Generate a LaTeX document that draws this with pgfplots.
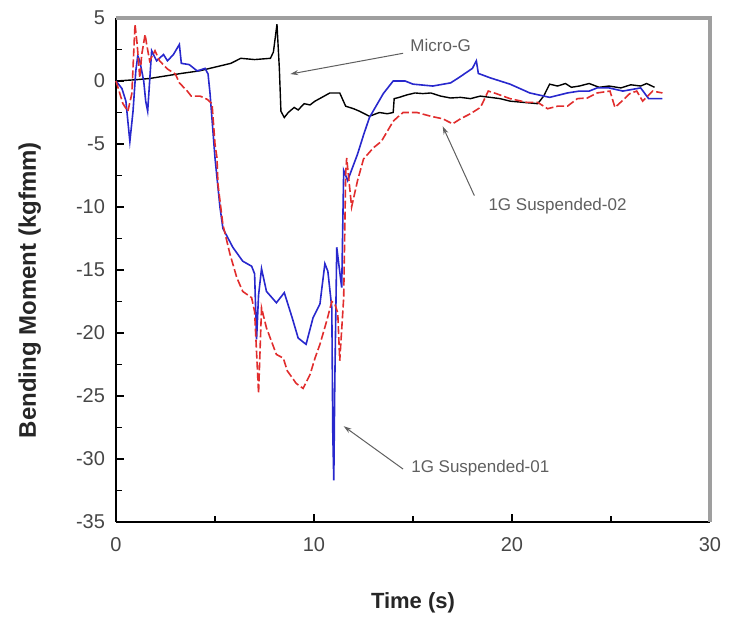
\documentclass[border=0pt]{standalone}
\usepackage{fontspec}
\setmainfont{Liberation Sans}
\usepackage{pgfplots}
\pgfplotsset{compat=1.18}
\usetikzlibrary{arrows.meta}
\definecolor{cblue}{RGB}{40,40,205}
\definecolor{cred}{RGB}{225,45,45}
\definecolor{tickgray}{RGB}{70,70,70}
\definecolor{notegray}{RGB}{95,95,95}
\begin{document}
\begin{tikzpicture}
\useasboundingbox (-58pt,-56.5pt) rectangle (307pt,261pt);
\begin{axis}[
  scale only axis,
  width=297pt, height=252pt,
  xmin=0, xmax=30, ymin=-35, ymax=5,
  axis x line*=bottom, axis y line*=left,
  axis line style={line width=1pt, black},
  xtick={0,10,20,30}, xticklabels={0,10,20,30},
  ytick={-35,-30,...,5}, yticklabels={-35,-30,-25,-20,-15,-10,-5,0,5},
  minor xtick={5,15,25},
  minor ytick={-32.5,-27.5,...,2.5},
  tick align=inside,
  major tick length=4pt, minor tick length=3pt,
  every tick/.style={black, line width=0.8pt},
  tick label style={font=\fontsize{10}{12}\selectfont, text=tickgray},
  xticklabel style={yshift=-4pt},
  yticklabel style={xshift=-2pt},
  xlabel={\textbf{Time (s)}},
  ylabel={\textbf{Bending Moment (kgfmm)}},
  xlabel style={font=\fontsize{11}{12}\selectfont, text=black!85,
    at={(axis description cs:0.5,0)}, yshift=-32pt},
  ylabel style={font=\fontsize{12}{13}\selectfont, text=black!85,
    at={(axis description cs:0,0.46)}, yshift=34pt},
  clip=false,
]
% Micro-G
\addplot[black, line width=0.7pt] coordinates {
  (0,0) (0.5,0.05) (1.0,0.1) (1.7,0.2) (2.5,0.4) (3.3,0.6) (4.2,0.8) (5.0,1.1)
  (5.8,1.4) (6.3,1.8) (7.0,1.7) (7.8,1.8) (7.95,2.3) (8.13,4.5) (8.25,1.0)
  (8.33,-2.4) (8.5,-2.9) (8.7,-2.5) (9.0,-2.1) (9.2,-2.3) (9.5,-1.8) (9.8,-1.9)
  (10.05,-1.6) (10.4,-1.3) (10.8,-0.95) (11.3,-0.95) (11.6,-2.0) (12.0,-2.2)
  (12.3,-2.4) (12.8,-2.8) (13.3,-2.5) (13.7,-2.6) (14.0,-2.5) (14.05,-1.4)
  (14.3,-1.3) (14.7,-1.1) (15.1,-0.95) (15.5,-1.0) (15.9,-0.95) (16.4,-1.2)
  (16.9,-1.35) (17.4,-1.3) (17.9,-1.4) (18.4,-1.2) (18.9,-1.3) (19.4,-1.4)
  (19.9,-1.6) (20.6,-1.7) (21.3,-1.8) (21.6,-1.2) (21.9,-0.25) (22.3,-0.4)
  (22.7,-0.2) (23.0,-0.5) (23.4,-0.4) (23.9,-0.2) (24.4,-0.5) (24.9,-0.4)
  (25.5,-0.55) (26.0,-0.3) (26.5,-0.4) (26.8,-0.2) (27.2,-0.5)
};
% 1G Suspended-01
\addplot[cblue, line width=0.8pt] coordinates {
  (0,0) (0.3,-0.6) (0.5,-1.6) (0.7,-4.8) (0.86,-2.4) (1.0,0.8) (1.1,2.0)
  (1.2,1.6) (1.4,0) (1.5,-1.6) (1.6,-2.4) (1.8,2.4) (2.05,1.6) (2.4,2.1)
  (2.6,1.6) (2.9,2.1) (3.2,2.9) (3.3,1.4) (3.7,1.3) (4.1,0.8) (4.5,1.0)
  (4.65,0.55) (4.75,-1.0) (5.0,-6.1) (5.25,-10) (5.4,-11.7) (5.9,-13.2)
  (6.4,-14.3) (6.85,-14.7) (7.0,-15.3) (7.1,-20.5) (7.2,-17) (7.35,-14.9)
  (7.6,-16.7) (8.1,-17.6) (8.5,-16.8) (8.9,-18.8) (9.2,-20.4) (9.6,-20.9)
  (9.95,-18.8) (10.3,-17.7) (10.55,-14.5) (10.7,-15.1) (10.9,-18)
  (10.95,-28) (11.0,-31.7) (11.05,-24) (11.15,-13.2) (11.25,-14.5)
  (11.4,-16.4) (11.5,-7.1) (11.7,-7.9) (12.2,-5.8) (12.5,-4.3) (12.8,-2.9)
  (13.5,-1.0) (14.0,0) (14.6,0) (15.0,-0.25) (16.0,-0.4) (16.9,-0.15)
  (17.3,0.25) (18.0,1.0) (18.2,1.6) (18.3,0.6) (18.9,0.25) (19.9,-0.25)
  (20.9,-0.95) (21.9,-1.3) (22.8,-0.95) (23.4,-0.8) (23.9,-0.8) (24.3,-0.55)
  (24.9,-0.55) (25.6,-0.8) (26.5,-0.55) (26.9,-1.4) (27.6,-1.4)
};
% 1G Suspended-02
\addplot[cred, line width=0.8pt, dash pattern=on 4pt off 1.5pt] coordinates {
  (0,0) (0.35,-1.8) (0.6,-2.4) (0.8,-1.0) (0.96,4.5) (1.07,2.9) (1.2,0.25)
  (1.3,2.1) (1.47,3.7) (1.55,2.9) (1.7,1.6) (1.97,2.4) (2.2,1.6) (2.6,0.95)
  (3.0,0.55) (3.2,-0.15) (3.6,-0.8) (3.8,-1.2) (4.25,-1.2) (4.6,-1.45)
  (4.85,-1.8) (5.0,-5) (5.1,-6.1) (5.15,-8.2) (5.4,-11.4) (5.75,-13.7)
  (6.1,-15.6) (6.4,-16.7) (6.85,-17.2) (7.0,-18.3) (7.2,-24.8) (7.35,-18)
  (7.6,-19.6) (8.1,-21.7) (8.45,-22) (8.65,-23) (9.1,-24) (9.45,-24.4)
  (9.8,-23.3) (10.05,-22) (10.3,-20.9) (10.65,-19) (10.9,-17.5) (11.05,-17.7)
  (11.2,-18.4) (11.3,-22.2) (11.5,-17.2) (11.6,-7.4) (11.65,-6.1) (11.9,-10)
  (12.2,-7.9) (12.5,-6.2) (13.0,-5.3) (13.4,-4.8) (13.7,-4.0) (14.0,-3.2)
  (14.2,-2.9) (14.5,-2.5) (15.2,-2.5) (15.9,-2.8) (16.5,-3.0) (17.0,-3.4)
  (17.4,-3.0) (17.9,-2.6) (18.4,-2.1) (18.5,-1.8) (18.8,-0.8) (19.2,-1.0)
  (19.9,-1.4) (20.75,-1.7) (21.3,-1.7) (21.8,-2.2) (22.3,-2.0) (22.8,-2.0)
  (23.3,-1.4) (23.8,-1.35) (24.3,-0.95) (24.95,-0.8) (25.2,-2.1) (25.55,-1.6)
  (25.95,-1.0) (26.3,-0.8) (26.6,-1.6) (27.1,-0.8) (27.6,-0.95)
};
% frame top and right
\draw[gray!75, line width=1.6pt] (rel axis cs:0,1) -- (rel axis cs:1,1) -- (rel axis cs:1,0);
% annotations
\node[font=\fontsize{8.5}{10}\selectfont, text=notegray] at (axis cs:16.4,2.8) {Micro-G};
\draw[notegray, line width=0.5pt, -{Stealth[length=4pt,width=2.5pt]}] (axis cs:14.5,2.2) -- (axis cs:8.8,0.55);
\node[font=\fontsize{8.5}{10}\selectfont, text=notegray] at (axis cs:22.3,-9.9) {1G Suspended-02};
\draw[notegray, line width=0.5pt, -{Stealth[length=4pt,width=2.5pt]}] (axis cs:18.1,-9.1) -- (axis cs:16.5,-3.6);
\node[font=\fontsize{8.5}{10}\selectfont, text=notegray] at (axis cs:18.4,-30.7) {1G Suspended-01};
\draw[notegray, line width=0.5pt, -{Stealth[length=4pt,width=2.5pt]}] (axis cs:14.5,-30.8) -- (axis cs:11.5,-27.4);
\end{axis}
\end{tikzpicture}
\end{document}
